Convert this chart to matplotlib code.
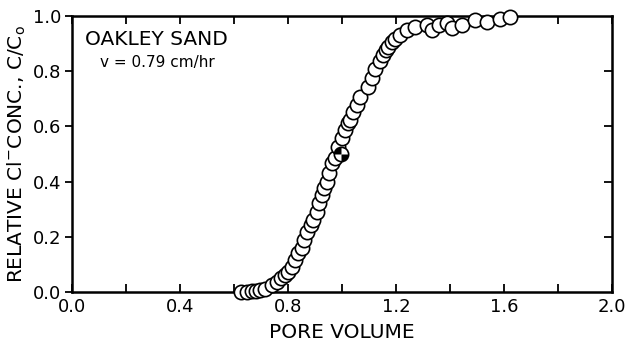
import matplotlib.pyplot as plt
from matplotlib.path import Path

plt.rcParams['font.family'] = ['DejaVu Sans']
plt.rcParams['mathtext.fontset'] = 'dejavusans'

# breakthrough data
pore_volume = [0.626, 0.648, 0.667, 0.683, 0.697, 0.715, 0.740, 0.758, 0.774,
               0.789, 0.801, 0.813, 0.826, 0.838, 0.850, 0.860, 0.869, 0.886,
               0.894, 0.906, 0.916, 0.925, 0.933, 0.943, 0.953, 0.962, 0.974,
               0.986, 0.999, 1.011, 1.023, 1.030, 1.042, 1.054, 1.067, 1.097,
               1.110, 1.122, 1.141, 1.153, 1.163, 1.170, 1.184, 1.196, 1.215,
               1.240, 1.270, 1.314, 1.332, 1.357, 1.388, 1.406, 1.443, 1.493,
               1.536, 1.585, 1.622]
rel_conc = [0.000, 0.000, 0.002, 0.004, 0.006, 0.012, 0.025, 0.037, 0.050,
            0.062, 0.074, 0.092, 0.116, 0.141, 0.160, 0.188, 0.217, 0.243,
            0.261, 0.291, 0.321, 0.351, 0.376, 0.400, 0.430, 0.466, 0.484,
            0.526, 0.557, 0.587, 0.611, 0.623, 0.653, 0.678, 0.708, 0.744,
            0.775, 0.806, 0.835, 0.859, 0.877, 0.889, 0.906, 0.918, 0.931,
            0.949, 0.961, 0.967, 0.949, 0.967, 0.974, 0.955, 0.967, 0.986,
            0.979, 0.989, 0.996]

# the half-filled reference point (C/Co = 0.5)
mid_pv = [0.996]
mid_conc = [0.500]

fig = plt.figure(figsize=(6.26, 3.46), dpi=100)
ax = fig.add_axes([0.115, 0.156, 0.863, 0.798])

ms = 10.3
ax.plot(pore_volume, rel_conc, 'o', ms=ms, mfc='white', mec='black',
        mew=1.2, clip_on=False, zorder=3)
ax.plot(mid_pv, mid_conc, 'o', ms=ms, mfc='white', mec='none',
        clip_on=False, zorder=4)
for a0, a1 in [(90, 180), (270, 360)]:
    ax.plot(mid_pv, mid_conc, marker=Path.wedge(a0, a1), ls='none', ms=ms,
            mfc='black', mec='none', clip_on=False, zorder=5)
ax.plot(mid_pv, mid_conc, 'o', ms=ms, mfc='none', mec='black', mew=1.2,
        clip_on=False, zorder=6)

ax.set_xlim(0, 2.0)
ax.set_ylim(0, 1.0)
ax.set_xticks([0.0, 0.4, 0.8, 1.2, 1.6, 2.0])
ax.set_xticklabels(['0.0', '0.4', '0.8', '1.2', '1.6', '2.0'])
ax.set_xticks([0.2, 0.6, 1.0, 1.4, 1.8], minor=True)
ax.set_yticks([0.0, 0.2, 0.4, 0.6, 0.8, 1.0])
ax.set_yticklabels(['0.0', '0.2', '0.4', '0.6', '0.8', '1.0'])

for s in ax.spines.values():
    s.set_linewidth(1.8)

ax.tick_params(axis='x', which='both', direction='in', top=True, length=6,
               width=1.3, labelsize=13, pad=4)
ax.tick_params(axis='y', which='both', direction='out', length=5, width=1.3,
               labelsize=13, pad=3)
ax2 = ax.secondary_yaxis('right')
ax2.set_yticks([0.2, 0.4, 0.6, 0.8])
ax2.tick_params(direction='in', length=6, width=1.3, labelright=False)

ax.set_xlabel('PORE VOLUME', fontsize=14.5, labelpad=5)
ax.set_ylabel(r'RELATIVE Cl$^{-}$CONC., C/C$_{\mathrm{o}}$', fontsize=14.5,
              labelpad=3)

ax.text(0.025, 0.915, 'OAKLEY SAND', transform=ax.transAxes, fontsize=14.5,
        va='center', ha='left')
ax.text(0.052, 0.83, 'v = 0.79 cm/hr', transform=ax.transAxes, fontsize=11,
        va='center', ha='left')

fig.savefig('out.png', dpi=100)
